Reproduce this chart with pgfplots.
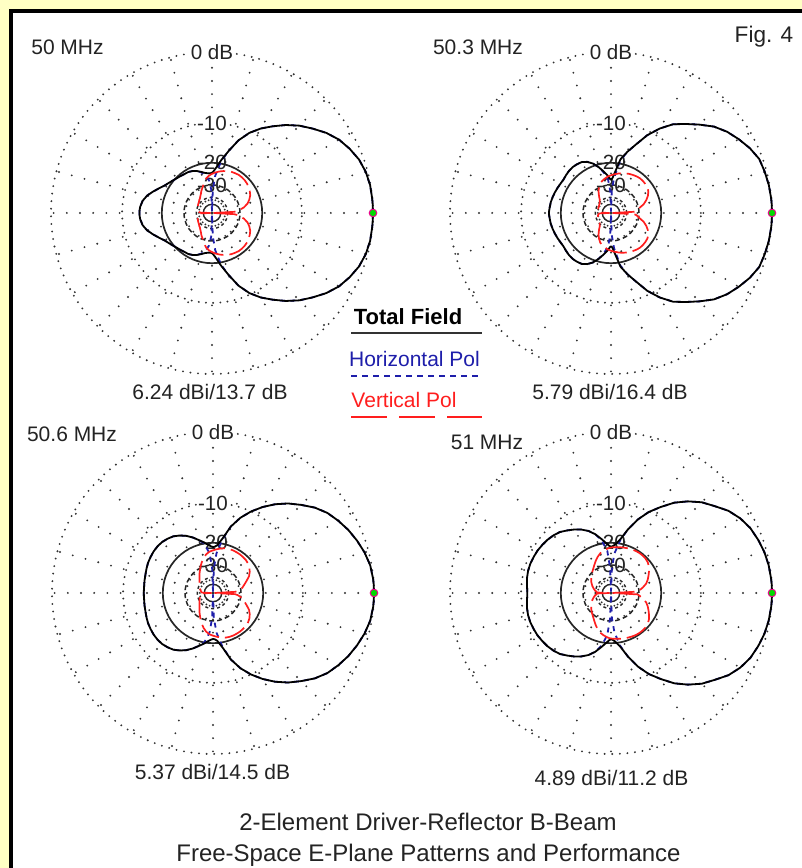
\documentclass[border=0pt]{standalone}
\usepackage{pgfplots}
\pgfplotsset{compat=1.18}
\usepackage{pgfplotstable}
\usepackage{fontspec}
\setmainfont{Liberation Sans}
\definecolor{bgyellow}{RGB}{255,255,196}
\definecolor{hblue}{RGB}{30,30,170}
\definecolor{vred}{RGB}{255,30,30}
\definecolor{gridgray}{RGB}{50,50,50}
\definecolor{txt}{RGB}{35,35,35}

% angle (deg), total field, horizontal pol, vertical pol (dB)
\pgfplotstableread{
a t h v
0 0 0 -80
3 -0.01 -0.01 -34
5 -0.02 -0.02 -31
10 -0.05 -0.05 -27.5
15 -0.2 -0.2 -25.3
20 -0.5 -0.5 -24
25 -1.0 -1.0 -23
30 -1.6 -1.6 -22.4
35 -2.45 -2.45 -22
40 -3.5 -3.5 -21.6
45 -4.55 -4.55 -21.4
50 -5.8 -5.8 -21.3
55 -7.2 -7.2 -21.3
60 -8.6 -8.6 -21.5
65 -10.3 -10.3 -21.7
70 -12.6 -12.6 -22.1
75 -15.8 -15.8 -22.5
80 -18.8 -19.2 -23
85 -21.8 -25 -23.6
88 -23.2 -33 -24
90 -23.8 -80 -24.3
92 -24.0 -33 -24.6
95 -24.0 -27.5 -25.1
100 -23.6 -24.5 -26.3
105 -22.8 -23 -28.3
110 -22.0 -22 -30.4
115 -21.4 -21.4 -32
120 -21.0 -21.0 -34
125 -20.9 -20.9 -35.5
130 -20.6 -20.6 -36.8
135 -20.3 -20.3 -37.5
140 -19.8 -19.8 -38.5
145 -19.2 -19.2 -39
150 -18.5 -18.5 -39.5
155 -17.4 -17.4 -40
160 -16.2 -16.2 -40.5
165 -15.0 -15.0 -41
170 -14.2 -14.2 -42
175 -13.8 -13.8 -43
178 -13.7 -13.7 -45
180 -13.7 -13.7 -80
182 -13.7 -13.7 -45
185 -13.8 -13.8 -43
190 -14.2 -14.2 -42
195 -15.0 -15.0 -41
200 -16.2 -16.2 -40.5
205 -17.4 -17.4 -40
210 -18.5 -18.5 -39.5
215 -19.2 -19.2 -39
220 -19.8 -19.8 -38.5
225 -20.3 -20.3 -37.5
230 -20.6 -20.6 -36.8
235 -20.9 -20.9 -35.5
240 -21.0 -21.0 -34
245 -21.4 -21.4 -32
250 -22.0 -22 -30.4
255 -22.8 -23 -28.3
260 -23.6 -24.5 -26.3
265 -24.0 -27.5 -25.1
268 -24.0 -33 -24.6
270 -23.8 -80 -24.3
272 -23.2 -33 -24
275 -21.8 -25 -23.6
280 -18.8 -19.2 -23
285 -15.8 -15.8 -22.5
290 -12.6 -12.6 -22.1
295 -10.3 -10.3 -21.7
300 -8.6 -8.6 -21.5
305 -7.2 -7.2 -21.3
310 -5.8 -5.8 -21.3
315 -4.55 -4.55 -21.4
320 -3.5 -3.5 -21.6
325 -2.45 -2.45 -22
330 -1.6 -1.6 -22.4
335 -1.0 -1.0 -23
340 -0.5 -0.5 -24
345 -0.2 -0.2 -25.3
350 -0.05 -0.05 -27.5
355 -0.02 -0.02 -31
357 -0.01 -0.01 -34
360 0 0 -80
}\tA

\pgfplotstableread{
a t h v
0 0 0 -80
3 -0.01 -0.01 -33
5 -0.02 -0.02 -31.5
10 -0.08 -0.08 -29.5
15 -0.2 -0.2 -26.8
20 -0.35 -0.35 -25
25 -0.85 -0.85 -23.6
30 -1.5 -1.5 -22.6
35 -2.2 -2.2 -22.1
40 -3.1 -3.1 -21.9
45 -4.35 -4.35 -21.8
50 -5.6 -5.6 -21.8
55 -6.8 -6.8 -22
60 -8.6 -8.6 -22.3
65 -10.8 -10.8 -22.6
70 -13.6 -13.6 -23
75 -16 -16 -23.4
80 -18.6 -19 -23.9
85 -24 -26 -24.4
88 -26.5 -34 -24.7
90 -27 -80 -24.9
92 -26.5 -34 -25.1
95 -25 -27 -25.4
100 -23 -23.5 -26.2
105 -21 -21 -27
110 -19.2 -19.2 -28
115 -18 -18 -29.8
120 -17.3 -17.3 -32
125 -17.1 -17.1 -35
130 -17 -17 -38
135 -17.1 -17.1 -39.5
140 -17.3 -17.3 -41
145 -17.5 -17.5 -41.5
150 -17.4 -17.4 -42
155 -17.2 -17.2 -42.2
160 -17 -17 -42.5
165 -16.8 -16.8 -42.7
170 -16.6 -16.6 -43
175 -16.5 -16.5 -44
178 -16.4 -16.4 -45
180 -16.4 -16.4 -80
182 -16.4 -16.4 -45
185 -16.5 -16.5 -44
190 -16.6 -16.6 -43
195 -16.8 -16.8 -42.7
200 -17 -17 -42.5
205 -17.2 -17.2 -42.2
210 -17.4 -17.4 -42
215 -17.5 -17.5 -41.5
220 -17.3 -17.3 -41
225 -17.1 -17.1 -39.5
230 -17 -17 -38
235 -17.1 -17.1 -35
240 -17.3 -17.3 -32
245 -18 -18 -29.8
250 -19.2 -19.2 -28
255 -21 -21 -27
260 -23 -23.5 -26.2
265 -25 -27 -25.4
268 -26.5 -34 -25.1
270 -27 -80 -24.9
272 -26.5 -34 -24.7
275 -24 -26 -24.4
280 -18.6 -19 -23.9
285 -16 -16 -23.4
290 -13.6 -13.6 -23
295 -10.8 -10.8 -22.6
300 -8.6 -8.6 -22.3
305 -6.8 -6.8 -22
310 -5.6 -5.6 -21.8
315 -4.35 -4.35 -21.8
320 -3.1 -3.1 -21.9
325 -2.2 -2.2 -22.1
330 -1.5 -1.5 -22.6
335 -0.85 -0.85 -23.6
340 -0.35 -0.35 -25
345 -0.2 -0.2 -26.8
350 -0.08 -0.08 -29.5
355 -0.02 -0.02 -31.5
357 -0.01 -0.01 -33
360 0 0 -80
}\tB

\pgfplotstableread{
a t h v
0 0 0 -80
3 -0.01 -0.01 -34
5 -0.03 -0.03 -32
10 -0.15 -0.15 -29
15 -0.45 -0.45 -27.5
20 -0.85 -0.85 -25.8
25 -1.3 -1.3 -24
30 -1.85 -1.85 -22.9
35 -2.45 -2.45 -22.1
40 -3.3 -3.3 -21.6
45 -4.4 -4.4 -21.3
50 -5.5 -5.5 -21.2
55 -6.8 -6.8 -21.1
60 -8.3 -8.3 -21.1
65 -10 -10 -21.1
70 -12 -12 -21.2
75 -14.6 -14.6 -21.4
80 -18.3 -18.6 -21.8
85 -20.8 -24 -22.3
88 -21.4 -32 -22.6
90 -21.5 -80 -22.8
92 -21.3 -32 -23
95 -20.8 -24 -23.3
100 -19.6 -20 -24.2
105 -18.5 -18.5 -25.6
110 -17.2 -17.2 -27.3
115 -16.1 -16.1 -29.2
120 -15.2 -15.2 -31.2
125 -14.5 -14.5 -33
130 -14.1 -14.1 -35
135 -13.8 -13.8 -36.5
140 -13.7 -13.7 -38
145 -13.7 -13.7 -39
150 -13.8 -13.8 -40
155 -13.9 -13.9 -41
160 -14.1 -14.1 -42
165 -14.3 -14.3 -43
170 -14.4 -14.4 -44
175 -14.5 -14.5 -45
178 -14.5 -14.5 -46
180 -14.5 -14.5 -80
182 -14.5 -14.5 -46
185 -14.5 -14.5 -45
190 -14.4 -14.4 -44
195 -14.3 -14.3 -43
200 -14.1 -14.1 -42
205 -13.9 -13.9 -41
210 -13.8 -13.8 -40
215 -13.7 -13.7 -39
220 -13.7 -13.7 -38
225 -13.8 -13.8 -36.5
230 -14.1 -14.1 -35
235 -14.5 -14.5 -33
240 -15.2 -15.2 -31.2
245 -16.1 -16.1 -29.2
250 -17.2 -17.2 -27.3
255 -18.5 -18.5 -25.6
260 -19.6 -20 -24.2
265 -20.8 -24 -23.3
268 -21.3 -32 -23
270 -21.5 -80 -22.8
272 -21.4 -32 -22.6
275 -20.8 -24 -22.3
280 -18.3 -18.6 -21.8
285 -14.6 -14.6 -21.4
290 -12 -12 -21.2
295 -10 -10 -21.1
300 -8.3 -8.3 -21.1
305 -6.8 -6.8 -21.1
310 -5.5 -5.5 -21.2
315 -4.4 -4.4 -21.3
320 -3.3 -3.3 -21.6
325 -2.45 -2.45 -22.1
330 -1.85 -1.85 -22.9
335 -1.3 -1.3 -24
340 -0.85 -0.85 -25.8
345 -0.45 -0.45 -27.5
350 -0.15 -0.15 -29
355 -0.03 -0.03 -32
357 -0.01 -0.01 -34
360 0 0 -80
}\tC

\pgfplotstableread{
a t h v
0 0 0 -80
3 -0.01 -0.01 -31
5 -0.03 -0.03 -29.8
10 -0.1 -0.1 -27.5
15 -0.25 -0.25 -25.5
20 -0.5 -0.5 -24.3
25 -0.8 -0.8 -23.3
30 -1.3 -1.3 -22.3
35 -2 -2 -21.4
40 -3 -3 -20.8
45 -3.9 -3.9 -20.5
50 -5.1 -5.1 -20.4
55 -6.5 -6.5 -20.4
60 -8.3 -8.3 -20.5
65 -10.1 -10.1 -20.7
70 -12.4 -12.4 -20.9
75 -15.3 -15.3 -21.1
80 -18.5 -18.8 -21.3
85 -20.5 -24 -21.5
88 -21.2 -32 -21.6
90 -21.4 -80 -21.7
92 -21.1 -32 -21.8
95 -20.2 -23 -22.1
100 -18.5 -19 -22.7
105 -16.7 -16.7 -23.4
110 -15.3 -15.3 -24.5
115 -14.3 -14.3 -25.8
120 -13.5 -13.5 -27.2
125 -12.8 -12.8 -28.5
130 -12.1 -12.1 -29.6
135 -11.7 -11.7 -30.5
140 -11.4 -11.4 -31.5
145 -11.2 -11.2 -32.5
150 -11 -11 -33.5
155 -10.9 -10.9 -34.8
160 -10.8 -10.8 -36
165 -10.8 -10.8 -37.5
170 -10.9 -10.9 -39
175 -11.1 -11.1 -41
178 -11.2 -11.2 -42
180 -11.2 -11.2 -80
182 -11.2 -11.2 -42
185 -11.1 -11.1 -41
190 -10.9 -10.9 -39
195 -10.8 -10.8 -37.5
200 -10.8 -10.8 -36
205 -10.9 -10.9 -34.8
210 -11 -11 -33.5
215 -11.2 -11.2 -32.5
220 -11.4 -11.4 -31.5
225 -11.7 -11.7 -30.5
230 -12.1 -12.1 -29.6
235 -12.8 -12.8 -28.5
240 -13.5 -13.5 -27.2
245 -14.3 -14.3 -25.8
250 -15.3 -15.3 -24.5
255 -16.7 -16.7 -23.4
260 -18.5 -19 -22.7
265 -20.2 -23 -22.1
268 -21.1 -32 -21.8
270 -21.4 -80 -21.7
272 -21.2 -32 -21.6
275 -20.5 -24 -21.5
280 -18.5 -18.8 -21.3
285 -15.3 -15.3 -21.1
290 -12.4 -12.4 -20.9
295 -10.1 -10.1 -20.7
300 -8.3 -8.3 -20.5
305 -6.5 -6.5 -20.4
310 -5.1 -5.1 -20.4
315 -3.9 -3.9 -20.5
320 -3 -3 -20.8
325 -2 -2 -21.4
330 -1.3 -1.3 -22.3
335 -0.8 -0.8 -23.3
340 -0.5 -0.5 -24.3
345 -0.25 -0.25 -25.5
350 -0.1 -0.1 -27.5
355 -0.03 -0.03 -29.8
357 -0.01 -0.01 -31
360 0 0 -80
}\tD

% polar grid (ARRL log scale), radius 161 px for 0 dB
\newcommand{\polgrid}[2]{%
  \begin{scope}[shift={(#1,#2)}]
    \foreach \ang in {0,15,...,345}
      \draw[gridgray, line width=1.05pt, line cap=round, dash pattern=on 0pt off 6.6pt] (0,0) -- (\ang:161);
    \draw[gridgray, line width=1.05pt, line cap=round, dash pattern=on 0pt off 3.8pt] (0,0) circle[radius=161];
    \draw[gridgray, line width=1.05pt, line cap=round, dash pattern=on 0pt off 3.6pt] (0,0) circle[radius=89.9];
    \draw[black!85, line width=0.85pt] (0,0) circle[radius=50.2];
    \draw[black!85, line width=0.75pt, dash pattern=on 2.5pt off 1.5pt] (0,0) circle[radius=28];
    \draw[black!85, line width=0.7pt, dash pattern=on 1.5pt off 1.5pt] (0,0) circle[radius=15.7];
    \draw[black!85, line width=0.7pt] (0,0) circle[radius=8.7];
    \node[fill=white, inner sep=0.6pt, text=txt, font=\fontsize{10.3}{12}\selectfont] at (0,161) {0 dB};
    \node[fill=white, inner sep=0.3pt, text=txt, font=\fontsize{10.3}{12}\selectfont] at (0,89.9) {-10};
    \node[inner sep=0pt, text=txt, font=\fontsize{10.3}{12}\selectfont] at (0,50.2) {-20};
    \node[inner sep=0pt, text=txt, font=\fontsize{10.3}{12}\selectfont] at (0,28) {-30};
  \end{scope}}

\pgfplotsset{pol/.style={width=161pt, height=161pt, scale only axis,
  xmin=-1, xmax=1, ymin=-1, ymax=1, hide axis, clip=false, anchor=center, no markers}}

\newcommand{\pplot}[3]{\addplot[#1] table[
  x expr={exp(0.058266*\thisrow{#2})*cos(\thisrow{a})},
  y expr={exp(0.058266*\thisrow{#2})*sin(\thisrow{a})}] {#3};}

\newcommand{\drawpats}[1]{%
  \pplot{hblue, line width=0.9pt, dash pattern=on 2.5pt off 2.5pt}{h}{#1}
  \pplot{black, line width=0.9pt, line join=round}{t}{#1}
  \pplot{vred, line width=0.85pt, dash pattern=on 11pt off 3pt}{v}{#1}
  \addplot[only marks, mark=*, mark size=1.9pt, mark options={fill=green!85!black, draw=magenta, line width=0.5pt}] coordinates {(1,0)};}

\begin{document}
\begin{tikzpicture}[x=0.5pt, y=0.5pt]
  \useasboundingbox (0,0) rectangle (802,868);
  \fill[bgyellow] (0,0) rectangle (802,868);
  \fill[white] (11,0) rectangle (802,857);
  \draw[black, line width=2pt] (11,0) -- (11,857) -- (802,857);

  \polgrid{212}{655}
  \polgrid{611}{655}
  \polgrid{213}{275}
  \polgrid{611}{275}

  \begin{axis}[pol, at={(106pt,327.5pt)}] \drawpats{\tA} \end{axis}
  \begin{axis}[pol, at={(305.5pt,327.5pt)}] \drawpats{\tB} \end{axis}
  \begin{axis}[pol, at={(106.5pt,137.5pt)}] \drawpats{\tC} \end{axis}
  \begin{axis}[pol, at={(305.5pt,137.5pt)}] \drawpats{\tD} \end{axis}

  \begin{scope}[every node/.style={anchor=base, inner sep=0pt, text=txt, font=\fontsize{10.5}{12}\selectfont}]
    \node at (67.5,813) {50 MHz};
    \node at (478,813) {50.3 MHz};
    \node[font=\fontsize{11.3}{13}\selectfont] at (764,825) {Fig. 4};
    \node at (72,426) {50.6 MHz};
    \node at (487,418) {51 MHz};
    \node at (210,468) {6.24 dBi/13.7 dB};
    \node at (610,468) {5.79 dBi/16.4 dB};
    \node at (212.5,88) {5.37 dBi/14.5 dB};
    \node at (611.5,83) {4.89 dBi/11.2 dB};
    \node[font=\fontsize{12}{14}\selectfont] at (428,37) {2-Element Driver-Reflector B-Beam};
    \node[font=\fontsize{12}{14}\selectfont] at (428.5,6) {Free-Space E-Plane Patterns and Performance};
    \node[font=\bfseries\fontsize{11}{13}\selectfont, text=black] at (408,543) {Total Field};
    \node[text=hblue] at (414.5,501) {Horizontal Pol};
    \node[text=vred] at (404,460) {Vertical Pol};
  \end{scope}
  \draw[black!80, line width=1.2pt] (351,535) -- (482,535);
  \draw[hblue, line width=1pt, dash pattern=on 3pt off 2.5pt] (351,492) -- (482,492);
  \draw[vred, line width=1.2pt] (351,451) -- (387,451) (399,451) -- (435,451) (447,451) -- (482,451);
\end{tikzpicture}
\end{document}
